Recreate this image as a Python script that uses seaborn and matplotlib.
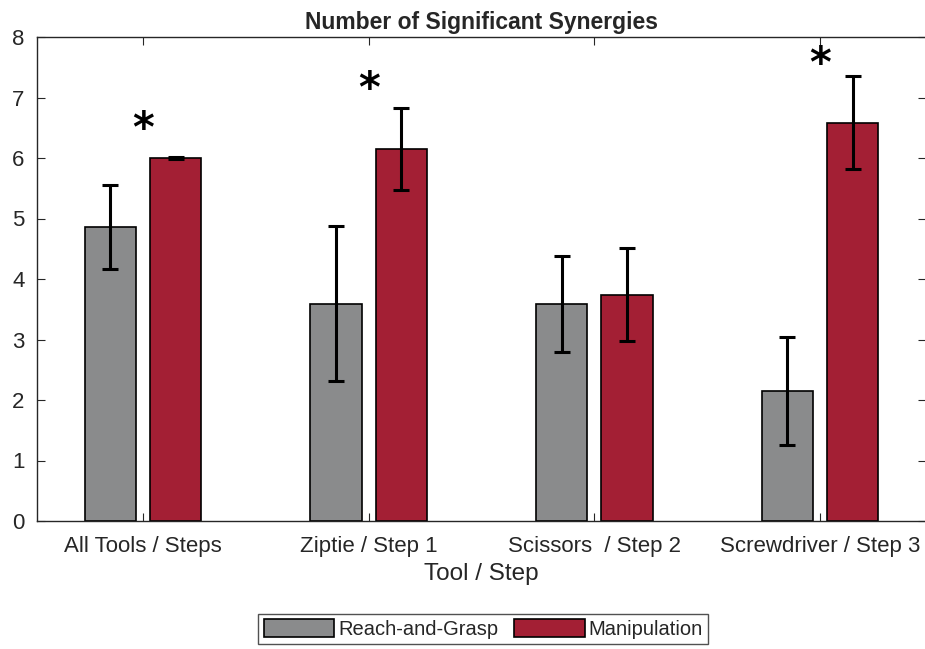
import matplotlib
matplotlib.use("Agg")
import matplotlib.pyplot as plt
import seaborn as sns
import pandas as pd
import numpy as np

categories = ["All Tools / Steps", "Ziptie / Step 1", "Scissors  / Step 2", "Screwdriver / Step 3"]
series = ["Reach-and-Grasp", "Manipulation"]
reach_vals = [4.86, 3.59, 3.59, 2.15]
reach_err = [0.69, 1.28, 0.79, 0.89]
manip_vals = [6.00, 6.15, 3.74, 6.58]
manip_err = [0.01, 0.68, 0.77, 0.77]
star_cats = ["All Tools / Steps", "Ziptie / Step 1", "Screwdriver / Step 3"]
star_y = [6.46, 7.12, 7.54]
colors = ["#8a8b8c", "#a31f34"]

df = pd.DataFrame({
    "Tool / Step": categories * 2,
    "Group": [series[0]] * 4 + [series[1]] * 4,
    "Value": reach_vals + manip_vals,
    "Err": reach_err + manip_err,
})

sns.set_style("white")
plt.rcParams["font.family"] = ["Liberation Sans", "DejaVu Sans"]

fig = plt.figure(figsize=(9.25, 6.49), dpi=100)
ax = fig.add_axes([37 / 925, 1 - 521 / 649, 889 / 925, (521 - 37) / 649])

sns.barplot(data=df, x="Tool / Step", y="Value", hue="Group", order=categories,
            hue_order=series, palette=colors, width=0.578, gap=0.215,
            errorbar=None, edgecolor="black", linewidth=1.2, saturation=1,
            ax=ax, legend=True)

# error bars at bar centers
errs = reach_err + manip_err
vals = reach_vals + manip_vals
bars = [p for p in ax.patches if p.get_height() > 0][:8]
for p, v, e in zip(bars, vals, errs):
    cx = p.get_x() + p.get_width() / 2
    ax.errorbar(cx, v, yerr=e, color="black", capsize=6, capthick=2.2,
                elinewidth=2.2, fmt="none", zorder=5)

for c, y in zip(star_cats, star_y):
    xi = categories.index(c)
    ax.text(xi, y, "*", ha="center", va="center", fontsize=30,
            fontweight="bold", color="black", family="DejaVu Sans")

ax.set_xlim(-0.47, 3.47)
ax.set_ylim(0, 8)
ax.set_yticks(range(0, 9))
ax.set_title("Number of Significant Synergies", fontsize=16.5, fontweight="bold", pad=6)
ax.set_xlabel("Tool / Step", fontsize=17.5, color="#262626", labelpad=4)
ax.set_ylabel("")
for s in ax.spines.values():
    s.set_visible(True)
    s.set_color("#262626")
    s.set_linewidth(1.0)
ax.tick_params(axis="both", direction="in", length=6, width=0.8, color="#262626",
               labelsize=16, labelcolor="#262626", top=True, right=True,
               bottom=True, left=True)
ax.tick_params(axis="x", pad=11)
ax.tick_params(axis="y", pad=9)

leg = ax.legend(loc="upper center", bbox_to_anchor=(0.502, -0.192),
                ncol=2, frameon=True, fontsize=14.5, fancybox=False,
                edgecolor="#262626", handlelength=3.5, handleheight=1.0,
                columnspacing=0.8, handletextpad=0.2, borderpad=0.25,
                borderaxespad=0)
leg.get_frame().set_linewidth(1.0)
for h in leg.legend_handles:
    h.set_edgecolor("black")

fig.savefig("out.png", dpi=100)
